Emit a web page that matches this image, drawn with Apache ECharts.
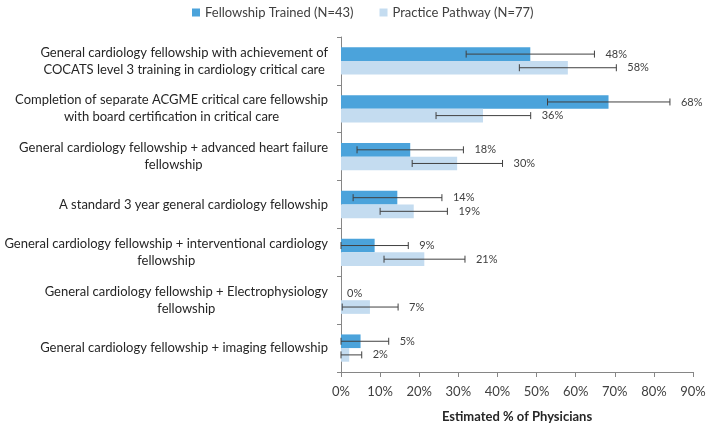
<!DOCTYPE html>
<html>
<head>
<meta charset="utf-8">
<style>
  html, body { margin: 0; padding: 0; background: #fff; }
  #chart { width: 709px; height: 428px; }
</style>
<script src="https://cdn.jsdelivr.net/npm/echarts@6/dist/echarts.min.js"></script>
</head>
<body>
<div id="chart"></div>
<script>
const FONT = 'Lato, "Liberation Sans", sans-serif';

const categories = [
  'General cardiology fellowship with achievement of\nCOCATS level 3 training in cardiology critical care',
  'Completion of separate ACGME critical care fellowship\nwith board certification in critical care',
  'General cardiology fellowship + advanced heart failure\nfellowship',
  'A standard 3 year general cardiology fellowship',
  'General cardiology fellowship + interventional cardiology\nfellowship',
  'General cardiology fellowship + Electrophysiology\nfellowship',
  'General cardiology fellowship + imaging fellowship'
];

const seriesNames = ['Fellowship Trained (N=43)', 'Practice Pathway (N=77)'];

// bar values (%)
const fellowValues = [48.4, 68.4, 17.7, 14.4, 8.6, 0, 5.0];
const practiceValues = [58.0, 36.3, 29.7, 18.6, 21.3, 7.4, 2.1];

// error bar ranges (%)
const fellowLow = [32.0, 52.8, 4.1, 3.1, 0, 0, 0];
const fellowHigh = [64.8, 84.1, 31.3, 25.8, 17.2, 0, 12.2];
const practiceLow = [45.6, 24.3, 18.2, 10.0, 11.0, 0.3, 0];
const practiceHigh = [70.4, 48.5, 41.3, 27.2, 31.7, 14.6, 5.3];

// printed labels
const fellowLabels = ['48%', '68%', '18%', '14%', '9%', '0%', '5%'];
const practiceLabels = ['58%', '36%', '30%', '19%', '21%', '7%', '2%'];

const xTicks = [0, 10, 20, 30, 40, 50, 60, 70, 80, 90];

const colors = ['#4BA3DB', '#C4DCF0'];
const CAT_GAP = 0.43;

function errorSeries(name, low, high, labels, side) {
  const data = categories.map((c, i) => [i, low[i], high[i], labels[i]]);
  return {
    type: 'custom',
    name: name + ' err',
    silent: true,
    z: 5,
    encode: { y: 0, x: [1, 2] },
    data: data,
    renderItem: function (params, api) {
      const idx = api.value(0);
      const band = api.size([0, 1])[1];
      const bw = band * (1 - CAT_GAP) / 2;
      const pLow = api.coord([api.value(1), idx]);
      const pHigh = api.coord([api.value(2), idx]);
      const y = pLow[1] + side * bw / 2;
      const cap = 3.5;
      const st = { stroke: '#404040', lineWidth: 1 };
      const children = [];
      if (pHigh[0] - pLow[0] > 0.5) {
        children.push(
          { type: 'line', shape: { x1: pLow[0], y1: y, x2: pHigh[0], y2: y }, style: st },
          { type: 'line', shape: { x1: pLow[0], y1: y - cap, x2: pLow[0], y2: y + cap }, style: st },
          { type: 'line', shape: { x1: pHigh[0], y1: y - cap, x2: pHigh[0], y2: y + cap }, style: st }
        );
      }
      const off = pHigh[0] - pLow[0] > 0.5 ? 11 : 6;
      children.push({
        type: 'text',
        x: pHigh[0] + off,
        y: y,
        style: {
          text: labels[idx],
          fill: '#404040',
          font: '11px ' + FONT,
          align: 'left',
          verticalAlign: 'middle'
        }
      });
      return { type: 'group', children: children };
    }
  };
}

const chart = echarts.init(document.getElementById('chart'), null, { renderer: 'canvas' });

chart.setOption({
  animation: false,
  textStyle: { fontFamily: FONT },
  legend: {
    data: seriesNames,
    top: 1,
    left: 187,
    itemWidth: 8,
    itemHeight: 8,
    itemGap: 26,
    icon: 'rect',
    textStyle: { fontSize: 13, color: '#404040', fontFamily: FONT }
  },
  grid: { left: 341, right: 16, top: 37, bottom: 49, containLabel: false },
  xAxis: {
    type: 'value',
    min: 0,
    max: 90,
    interval: 10,
    splitLine: { show: false },
    axisLine: { show: true, lineStyle: { color: '#868686' } },
    axisTick: { show: true, length: 5, lineStyle: { color: '#868686' } },
    axisLabel: {
      formatter: v => xTicks.includes(v) ? v + '%' : '',
      fontSize: 13,
      color: '#404040',
      margin: 13
    },
    name: 'Estimated % of Physicians',
    nameLocation: 'middle',
    nameGap: 38,
    nameTextStyle: { fontSize: 13, fontWeight: 'bold', color: '#262626' }
  },
  yAxis: {
    type: 'category',
    inverse: true,
    data: categories,
    axisLine: { show: true, lineStyle: { color: '#868686' } },
    axisTick: { show: true, length: 4, lineStyle: { color: '#868686' } },
    axisLabel: {
      margin: 13,
      color: '#262626',
      fontSize: 13,
      lineHeight: 17,
      formatter: v => v.split('\n').map(s => '{c|' + s + '}').join('\n'),
      rich: { c: { align: 'center', fontSize: 13, lineHeight: 17, color: '#262626', fontFamily: FONT } }
    }
  },
  series: [
    {
      type: 'bar',
      name: seriesNames[0],
      data: fellowValues,
      itemStyle: { color: colors[0] },
      barGap: '0%',
      barCategoryGap: (CAT_GAP * 100) + '%'
    },
    {
      type: 'bar',
      name: seriesNames[1],
      data: practiceValues,
      itemStyle: { color: colors[1] },
      barGap: '0%',
      barCategoryGap: (CAT_GAP * 100) + '%'
    },
    errorSeries(seriesNames[0], fellowLow, fellowHigh, fellowLabels, -1),
    errorSeries(seriesNames[1], practiceLow, practiceHigh, practiceLabels, 1)
  ]
});
</script>
</body>
</html>
